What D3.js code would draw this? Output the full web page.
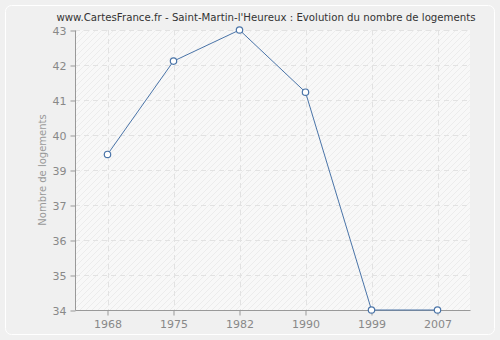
<!DOCTYPE html>
<html><head><meta charset="utf-8">
<script src="https://cdn.jsdelivr.net/npm/d3@7"></script>
<style>body{margin:0;background:#fff}svg{display:block}</style>
</head><body>
<svg id="c" width="500" height="340"></svg>
<script>
const title = "www.CartesFrance.fr - Saint-Martin-l'Heureux : Evolution du nombre de logements";
const yLabel = "Nombre de logements";
const years = ["1968","1975","1982","1990","1999","2007"];
const values = [39, 42, 43, 41, 34, 34];
const yDomain = [34, 43];
const yTickCount = 8;

const svg = d3.select("#c");
const W = 500, H = 340;
const m = {l:75, r:30, t:30, b:30};
const defs = svg.append("defs");
const pat = defs.append("pattern").attr("id","hatch").attr("patternUnits","userSpaceOnUse")
  .attr("width",6).attr("height",6);
pat.append("rect").attr("width",6).attr("height",6).attr("fill","#f8f8f8");
pat.append("path").attr("d","M-1,7 L7,-1 M-1,1 L1,-1 M5,7 L7,5").attr("stroke","#ececec").attr("stroke-width",1);

svg.append("rect").attr("x",0).attr("y",0).attr("width",W).attr("height",H).attr("fill","#f0f0f0");
svg.append("rect").attr("x",5.5).attr("y",5.5).attr("width",489).attr("height",329).attr("rx",6)
  .attr("fill","#f0f0f0").attr("stroke","#ffffff").attr("stroke-width",1);

const x = d3.scaleBand().domain(years).range([m.l-0.5, W-m.r+0.5]);
const y = d3.scaleLinear().domain(yDomain).range([H-m.b, m.t]);
const ticks = d3.range(yTickCount+1).map(i => yDomain[0] + i*(yDomain[1]-yDomain[0])/yTickCount);

svg.append("rect").attr("x",m.l).attr("y",m.t).attr("width",W-m.r-m.l).attr("height",H-m.b-m.t).attr("fill","url(#hatch)");

const g = svg.append("g");
g.selectAll(".gy").data(ticks.slice(1)).join("line")
  .attr("x1",m.l).attr("x2",W-m.r).attr("y1",d=>Math.round(y(d))+0.5).attr("y2",d=>Math.round(y(d))+0.5)
  .attr("stroke","#e2e2e2").attr("stroke-dasharray","5,4");
g.selectAll(".gx").data(years).join("line")
  .attr("x1",d=>Math.round(x(d)+x.bandwidth()/2)+0.5).attr("x2",d=>Math.round(x(d)+x.bandwidth()/2)+0.5)
  .attr("y1",m.t).attr("y2",H-m.b)
  .attr("stroke","#e2e2e2").attr("stroke-dasharray","5,4");

const yAxis = d3.axisLeft(y).tickValues(ticks).tickFormat(d=>Math.round(d)).tickSize(5).tickPadding(4);
const ya = svg.append("g").attr("transform",`translate(${m.l+0.5},0.5)`).call(yAxis);
const xAxis = d3.axisBottom(x).tickSize(5).tickPadding(5).tickSizeOuter(0);
const xa = svg.append("g").attr("transform",`translate(0.5,${H-m.b+0.5})`).call(xAxis);
[ya,xa].forEach(a=>{
  a.select(".domain").attr("stroke","#999");
  a.selectAll(".tick line").attr("stroke","#999");
  a.selectAll("text").attr("fill","#888").style("font-family","DejaVu Sans, Verdana, sans-serif").style("font-size","11px");
});
ya.select(".domain").attr("d",`M0,${m.t}V${H-m.b}`);
xa.select(".domain").attr("d",`M${m.l},0H${W-m.r}`);

const px = d => x(d)+x.bandwidth()/2;
const pts = years.map((d,i)=>[px(d), y(values[i])]);
svg.append("path").attr("d",d3.line()(pts)).attr("fill","none").attr("stroke","#4a74a8").attr("stroke-width",1);
svg.selectAll(".pt").data(pts).join("circle").attr("cx",d=>d[0]).attr("cy",d=>d[1]).attr("r",3.2)
  .attr("fill","#fff").attr("stroke","#4a74a8").attr("stroke-width",1.2);

svg.append("text").attr("x",266).attr("y",21).attr("text-anchor","middle")
  .attr("fill","#333").style("font-family","DejaVu Sans, Verdana, sans-serif").style("font-size","10.2px").text(title);
svg.append("text").attr("transform",`translate(46,${(m.t+H-m.b)/2}) rotate(-90)`).attr("text-anchor","middle")
  .attr("fill","#999").style("font-family","DejaVu Sans, Verdana, sans-serif").style("font-size","10px").text(yLabel);
</script>
</body></html>
